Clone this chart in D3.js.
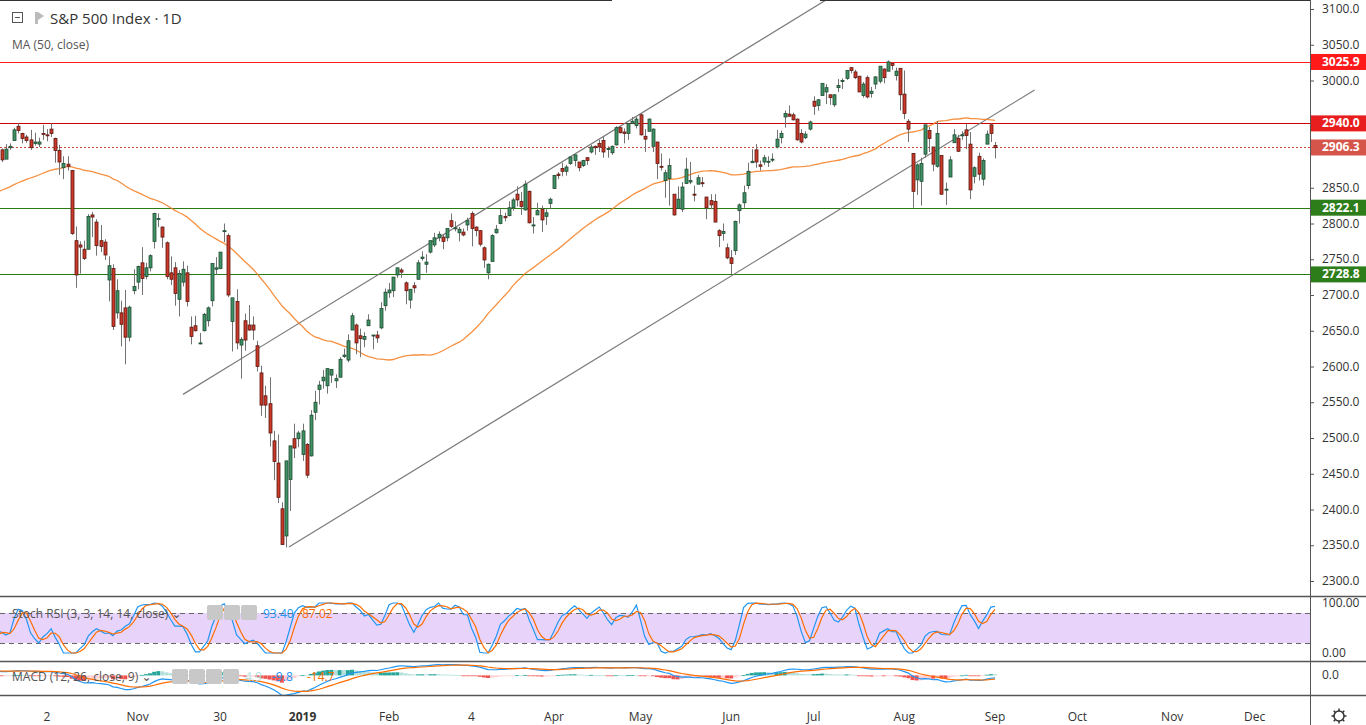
<!DOCTYPE html>
<html>
<head>
<meta charset="utf-8">
<script src="https://cdn.jsdelivr.net/npm/d3@7"></script>
<style>
  body { margin: 0; background: #fff; }
  svg { display: block; font-family: "Open Sans", "DejaVu Sans", sans-serif; }
</style>
</head>
<body>
<svg id="chart" width="1366" height="725"></svg>
<script>
// closes before the visible window, only used to warm up MA / RSI / MACD
var warmupCloses = [2726,2713,2736,2759,2784,2793,2774,2798,2801,2798,2809,2815,2804,2801,2806,2820,2846,2837,2818,2802,2816,2813,2827,2840,2850,2858,2857,2853,2833,2821,2839,2818,2840,2850,2857,2862,2861,2856,2875,2897,2898,2914,2901,2901,2896,2888,2878,2871,2877,2887,2888,2904,2904];

var firstDate = "2018-09-17";
var holidays = ["2018-11-22","2018-12-05","2018-12-25","2019-01-01","2019-01-21","2019-02-18","2019-04-19","2019-05-27","2019-07-04","2019-09-02","2019-11-28","2019-12-25"];

// [open, high, low, close] per trading day
var candles = [
[2903,2905,2886,2889],[2890,2911,2890,2904],[2906,2912,2903,2908],[2916,2934,2916,2931],[2936,2940,2926,2930],
[2926,2927,2912,2919],[2921,2924,2913,2916],[2917,2931,2903,2906],[2912,2927,2909,2914],[2911,2920,2907,2914],
[2926,2938,2917,2925],[2924,2932,2915,2923],[2932,2940,2921,2926],[2919,2920,2885,2902],[2902,2910,2868,2886],
[2878,2894,2862,2884],[2883,2894,2874,2880],[2874,2875,2784,2786],[2776,2796,2710,2728],[2770,2775,2730,2767],
[2764,2776,2749,2751],[2764,2813,2764,2810],[2812,2816,2781,2809],[2802,2806,2755,2769],[2776,2798,2760,2768],
[2774,2778,2749,2756],[2721,2754,2691,2741],[2737,2743,2651,2656],[2675,2722,2667,2706],[2675,2692,2628,2659],
[2682,2707,2603,2641],[2641,2685,2635,2683],[2706,2736,2701,2712],
[2718,2741,2708,2740],[2745,2767,2700,2723],[2726,2745,2722,2738],[2738,2757,2733,2755],[2775,2815,2765,2814],
[2807,2814,2795,2807],[2795,2796,2766,2781],[2773,2775,2722,2726],[2731,2754,2714,2722],[2738,2746,2685,2702],
[2694,2735,2670,2730],[2718,2747,2712,2736],[2731,2741,2684,2691],[2655,2670,2631,2642],[2657,2671,2649,2650],
[2633,2647,2631,2633],[2650,2675,2649,2673],[2664,2684,2656,2682],[2692,2744,2684,2744],[2736,2753,2728,2738],
[2737,2760,2736,2760],
[2790,2800,2774,2790],[2783,2786,2697,2700],[2663,2696,2621,2696],[2691,2708,2624,2633],[2630,2641,2583,2638],
[2664,2674,2622,2637],[2658,2686,2650,2651],[2658,2670,2637,2651],[2629,2636,2593,2600],[2591,2601,2531,2546],
[2559,2573,2528,2546],[2548,2585,2488,2507],[2496,2510,2441,2467],[2465,2505,2409,2417],[2401,2410,2351,2351],
[2363,2468,2347,2468],[2442,2489,2398,2489],[2499,2520,2472,2486],[2499,2510,2487,2507],
[2477,2520,2468,2510],[2491,2493,2444,2448],[2475,2539,2474,2532],[2536,2566,2525,2550],[2568,2580,2547,2574],
[2580,2595,2569,2585],[2573,2597,2562,2597],[2588,2596,2577,2596],[2580,2589,2570,2583],[2585,2613,2585,2610],
[2614,2625,2612,2616],[2609,2645,2606,2636],[2651,2675,2651,2671],[2658,2660,2617,2633],[2643,2653,2613,2639],
[2638,2648,2627,2642],[2657,2673,2657,2665],[2644,2644,2624,2644],[2644,2650,2633,2640],[2654,2690,2652,2681],
[2685,2709,2678,2704],
[2703,2717,2696,2707],[2706,2725,2697,2725],[2728,2738,2724,2738],[2735,2738,2724,2732],[2717,2719,2687,2706],
[2693,2708,2681,2708],[2713,2718,2703,2710],[2722,2749,2722,2745],[2751,2761,2748,2753],[2743,2757,2731,2746],
[2760,2776,2758,2776],[2770,2787,2767,2780],[2780,2789,2775,2785],[2781,2785,2764,2775],[2780,2793,2775,2793],
[2804,2814,2794,2796],[2793,2803,2789,2794],[2787,2795,2775,2792],[2788,2793,2782,2784],
[2798,2808,2790,2804],[2814,2817,2768,2793],[2795,2796,2782,2790],[2790,2791,2768,2771],[2766,2768,2738,2749],
[2731,2744,2722,2743],[2747,2785,2747,2783],[2787,2798,2786,2792],[2800,2820,2799,2811],[2810,2815,2803,2808],
[2811,2831,2810,2822],[2822,2836,2818,2833],[2841,2852,2824,2833],[2831,2844,2812,2824],[2819,2860,2818,2855],
[2845,2846,2800,2801],[2797,2809,2786,2798],[2812,2829,2812,2818],[2820,2825,2788,2805],[2810,2820,2798,2815],
[2828,2836,2820,2834],
[2849,2868,2849,2867],[2869,2872,2862,2867],[2877,2885,2866,2873],[2873,2882,2867,2879],[2884,2894,2882,2893],
[2888,2896,2880,2896],[2886,2886,2873,2878],[2881,2889,2879,2888],[2892,2893,2882,2888],[2900,2910,2898,2907],
[2908,2909,2896,2906],[2912,2917,2900,2907],[2916,2922,2892,2900],[2904,2908,2892,2905],[2899,2909,2896,2908],
[2910,2936,2909,2934],[2934,2936,2926,2927],[2928,2933,2912,2926],[2926,2940,2917,2940],[2940,2949,2939,2943],
[2937,2949,2933,2946],
[2952,2954,2923,2924],[2922,2932,2900,2918],[2929,2947,2929,2946],[2908,2933,2900,2932],[2914,2914,2862,2884],
[2880,2898,2874,2879],[2860,2875,2836,2871],[2863,2891,2825,2881],[2841,2841,2811,2812],[2821,2852,2821,2834],
[2820,2858,2816,2851],[2856,2892,2856,2876],[2858,2886,2855,2860],[2841,2853,2831,2840],[2855,2868,2855,2864],
[2857,2865,2851,2856],[2837,2837,2806,2822],[2832,2841,2820,2826],[2831,2841,2802,2802],[2790,2792,2767,2783],
[2786,2800,2776,2789],[2766,2772,2750,2752],
[2752,2763,2729,2744],[2762,2804,2756,2803],[2818,2828,2800,2826],[2829,2853,2822,2843],[2853,2885,2848,2873],
[2885,2904,2885,2887],[2903,2911,2878,2886],[2882,2888,2874,2880],[2886,2896,2882,2892],[2887,2894,2879,2887],
[2889,2898,2886,2890],[2907,2931,2905,2918],[2920,2930,2912,2926],[2949,2958,2934,2954],[2953,2965,2950,2950],
[2952,2955,2944,2945],[2946,2947,2916,2917],[2926,2932,2912,2914],[2920,2929,2918,2925],[2932,2944,2930,2942],
[2971,2978,2952,2964],[2965,2974,2958,2973],[2979,2996,2979,2996],[2984,2995,2967,2990],[2980,2981,2966,2976],
[2966,2981,2963,2980],[2990,3002,2984,2993],[3000,3003,2988,3000],[3003,3014,3001,3014],[3018,3018,3010,3014],
[3012,3015,3002,3004],[3006,3006,2984,2984],[2979,2998,2976,2995],[3004,3007,2975,2977],[2982,2991,2976,2985],
[2995,3006,2988,3005],[2999,3020,2996,3020],[3016,3017,2996,3004],[3013,3028,3013,3026],[3024,3025,3015,3021],
[3007,3018,3000,3013],[3017,3017,2958,2980],
[2981,3014,2946,2954],[2943,2946,2914,2932],[2898,2898,2822,2845],[2861,2884,2840,2882],[2859,2892,2825,2884],
[2897,2938,2892,2938],[2930,2935,2900,2919],[2907,2907,2873,2883],[2880,2943,2878,2926],[2895,2895,2840,2841],
[2847,2857,2826,2848],[2865,2894,2865,2889],[2913,2932,2913,2924],[2919,2924,2900,2901],[2923,2929,2917,2924],
[2931,2939,2904,2923],[2911,2928,2834,2847],[2866,2880,2856,2878],[2894,2899,2860,2869],[2862,2891,2853,2888],
[2911,2930,2911,2925],[2938,2940,2914,2926],
[2909,2914,2891,2906]
];

var priceTicks = d3.range(2300, 3101, 50);
var levels = [
  {price: 3025.9, color: "#ff1a1a", tag: "#ff1a1a", dash: null},
  {price: 2940.0, color: "#cc0000", tag: "#e81e1e", dash: null},
  {price: 2906.3, color: "#c8453a", tag: "#d6554b", dash: "2,2"},
  {price: 2822.1, color: "#2a7a13", tag: "#2e7d1b", dash: null},
  {price: 2728.8, color: "#2a7a13", tag: "#2e7d1b", dash: null}
];
// drawn trend lines: [barIndex, price] pairs
var trendLines = [
  [[44, 2561], [200, 3112.6]],
  [[69.7, 2347.5], [250.6, 2986.7]]
];
var timeLabels = [["2018-10-02","2"],["2018-11-01","Nov"],["2018-11-30","30"],["2019-01-02","2019"],["2019-02-01","Feb"],["2019-03-04","4"],["2019-04-01","Apr"],["2019-05-01","May"],["2019-06-03","Jun"],["2019-07-01","Jul"],["2019-08-01","Aug"],["2019-09-03","Sep"],["2019-10-01","Oct"],["2019-11-01","Nov"],["2019-12-02","Dec"]];

// ---- trading calendar
var fmt = d3.timeFormat("%Y-%m-%d");
var dates = [];
var d = new Date(firstDate + "T12:00:00");
while (dates.length < 330) {
  var k = fmt(d), wd = d.getDay();
  if (wd !== 0 && wd !== 6 && holidays.indexOf(k) < 0) dates.push(k);
  d = d3.timeDay.offset(d, 1);
}
var n = candles.length;

// ---- indicators
var closes = warmupCloses.concat(candles.map(function(c) { return c[3]; }));
var w0 = warmupCloses.length;
function sma(arr, p) { return arr.map(function(v, i) { if (i < p - 1 || arr.slice(i - p + 1, i + 1).some(function(x) { return x == null; })) return null; return d3.mean(arr.slice(i - p + 1, i + 1)); }); }
function ema(arr, p) { var a = 2 / (p + 1), out = [], prev = null; arr.forEach(function(v) { if (v == null) { out.push(null); return; } prev = prev == null ? v : prev + a * (v - prev); out.push(prev); }); return out; }
var ma50 = sma(closes, 50);
var rsi = [null], ag = 0, al = 0;
for (var i = 1; i < closes.length; i++) {
  var ch = closes[i] - closes[i - 1], g = Math.max(ch, 0), l = Math.max(-ch, 0);
  if (i <= 14) { ag += g / 14; al += l / 14; rsi.push(i < 14 ? null : 100 - 100 / (1 + ag / (al || 1e-9))); }
  else { ag = (ag * 13 + g) / 14; al = (al * 13 + l) / 14; rsi.push(100 - 100 / (1 + ag / (al || 1e-9))); }
}
var stoch = rsi.map(function(v, i) {
  if (i < 27) return null;
  var win = rsi.slice(i - 13, i + 1), lo = d3.min(win), hi = d3.max(win);
  return hi === lo ? 50 : (v - lo) / (hi - lo) * 100;
});
var kLine = sma(stoch, 3), dLine = sma(kLine, 3);
var e12 = ema(closes, 12), e26 = ema(closes, 26);
var macd = e12.map(function(v, i) { return v - e26[i]; });
var signal = ema(macd, 9);
var hist = macd.map(function(v, i) { return v - signal[i]; });

// ---- layout
var svg = d3.select("#chart");
var axisX = 1310, mainTop = 0, mainBot = 596, stTop = 597, stBot = 661, mdTop = 662, mdBot = 695;
var x = d3.scaleLinear().domain([11, n - 1]).range([47, 995]);
var y = d3.scaleLinear().domain([2300, 3100]).range([581, 9]);
var ys = d3.scaleLinear().domain([0, 100]).range([653, 603]);
var ym = d3.scaleLinear().domain([-76, 52]).range([695, 662]);
function xi(i) { return x(i - w0); }

var defs = svg.append("defs");
[["cMain", mainTop, mainBot], ["cSt", stTop, stBot], ["cMd", mdTop, mdBot]].forEach(function(c) {
  defs.append("clipPath").attr("id", c[0]).append("rect").attr("x", 0).attr("y", c[1]).attr("width", axisX).attr("height", c[2] - c[1]);
});

var main = svg.append("g").attr("clip-path", "url(#cMain)");

// levels
levels.forEach(function(lv) {
  main.append("line").attr("x1", 0).attr("x2", axisX).attr("y1", Math.round(y(lv.price)) + 0.5).attr("y2", Math.round(y(lv.price)) + 0.5)
    .attr("stroke", lv.color).attr("stroke-width", 1).attr("stroke-dasharray", lv.dash);
});

// trend lines
trendLines.forEach(function(t) {
  main.append("line").attr("x1", x(t[0][0])).attr("y1", y(t[0][1])).attr("x2", x(t[1][0])).attr("y2", y(t[1][1]))
    .attr("stroke", "#7b7b7b").attr("stroke-width", 1.2);
});

// MA 50
main.append("path").datum(ma50.map(function(v, i) { return [i, v]; }).filter(function(p) { return p[1] != null && p[0] >= w0 - 1; }))
  .attr("fill", "none").attr("stroke", "#f57c1f").attr("stroke-width", 1.3).attr("opacity", 0.85)
  .attr("d", d3.line().x(function(p) { return xi(p[0]); }).y(function(p) { return y(p[1]); }));

// candles
var bw = 3;
var cg = main.selectAll("g.c").data(candles).enter().append("g");
cg.append("line").attr("x1", function(c, i) { return Math.round(x(i)) + 0.5; }).attr("x2", function(c, i) { return Math.round(x(i)) + 0.5; })
  .attr("y1", function(c) { return y(c[1]); }).attr("y2", function(c) { return y(c[2]); }).attr("stroke", "#737373");
cg.append("rect").attr("x", function(c, i) { return Math.round(x(i)) - 1; }).attr("width", bw)
  .attr("y", function(c) { return y(Math.max(c[0], c[3])); })
  .attr("height", function(c) { return Math.max(1, Math.abs(y(c[0]) - y(c[3]))); })
  .attr("fill", function(c) { return c[3] >= c[0] ? "#3f9265" : "#c9392a"; })
  .attr("stroke", function(c) { return c[3] >= c[0] ? "#1e4a30" : "#5c1810"; }).attr("stroke-width", 0.8);

// ---- Stoch RSI pane
var st = svg.append("g").attr("clip-path", "url(#cSt)");
st.append("rect").attr("x", 0).attr("width", axisX).attr("y", ys(80)).attr("height", ys(20) - ys(80)).attr("fill", "#e8d4fb");
[80, 20].forEach(function(v) {
  st.append("line").attr("x1", 0).attr("x2", axisX).attr("y1", ys(v) + 0.5).attr("y2", ys(v) + 0.5)
    .attr("stroke", "#666").attr("stroke-dasharray", "5,4");
});
function pline(g, arr, sc, color) {
  g.append("path").datum(arr.map(function(v, i) { return [i, v]; }).filter(function(p) { return p[1] != null && p[0] >= w0 - 1; }))
    .attr("fill", "none").attr("stroke", color).attr("stroke-width", 1.2)
    .attr("d", d3.line().x(function(p) { return xi(p[0]); }).y(function(p) { return sc(p[1]); }));
}
pline(st, kLine, ys, "#2196f3");
pline(st, dLine, ys, "#ff6d00");

// ---- MACD pane
var md = svg.append("g").attr("clip-path", "url(#cMd)");
md.selectAll("rect.h").data(hist.map(function(v, i) { return [i, v]; }).filter(function(p) { return p[0] >= w0; })).enter().append("rect")
  .attr("x", function(p) { return xi(p[0]) - 2; }).attr("width", 4)
  .attr("y", function(p) { return Math.min(ym(p[1]), ym(0)); })
  .attr("height", function(p) { return Math.max(0.8, Math.abs(ym(p[1]) - ym(0))); })
  .attr("fill", function(p) {
    var prev = hist[p[0] - 1];
    if (p[1] >= 0) return p[1] >= prev ? "#26a69a" : "#b2dfdb";
    return p[1] <= prev ? "#ef5350" : "#ffcdd2";
  });
pline(md, macd, ym, "#2196f3");
pline(md, signal, ym, "#ff6d00");

// ---- pane borders / axes
svg.append("line").attr("x1", 0).attr("x2", 612).attr("y1", 0.5).attr("y2", 0.5).attr("stroke", "#333");
svg.append("line").attr("x1", 820).attr("x2", axisX).attr("y1", 0.5).attr("y2", 0.5).attr("stroke", "#333");
[mainBot, stBot, mdBot].forEach(function(yy) {
  svg.append("line").attr("x1", 0).attr("x2", 1366).attr("y1", yy + 0.5).attr("y2", yy + 0.5).attr("stroke", "#555").attr("stroke-width", 1.5);
});
svg.append("line").attr("x1", axisX + 0.5).attr("x2", axisX + 0.5).attr("y1", 0).attr("y2", 725).attr("stroke", "#555");

var ax = svg.append("g").attr("font-size", 12).attr("fill", "#333");
priceTicks.forEach(function(p) {
  ax.append("line").attr("x1", axisX).attr("x2", axisX + 4).attr("y1", y(p) + 0.5).attr("y2", y(p) + 0.5).attr("stroke", "#555");
  var covered = levels.some(function(lv) { return Math.abs(y(lv.price) - y(p)) < 14; });
  if (!covered) ax.append("text").attr("x", 1322).attr("y", y(p) + 4).text(p.toFixed(1));
});
[[100, "100.00"], [0, "0.00"]].forEach(function(t) {
  ax.append("text").attr("x", 1322).attr("y", ys(t[0]) + 4).text(t[1]);
});
ax.append("text").attr("x", 1322).attr("y", ym(0) + 4).text("0.0");

// level tags
levels.forEach(function(lv) {
  var yy = y(lv.price);
  svg.append("rect").attr("x", axisX + 1).attr("y", yy - 8).attr("width", 55).attr("height", 16).attr("fill", lv.tag);
  svg.append("text").attr("x", 1322).attr("y", yy + 4).attr("fill", "#fff").attr("font-size", 12).attr("font-weight", "bold").text(lv.price.toFixed(1));
});

// time axis
var tg = svg.append("g").attr("font-size", 12).attr("fill", "#333").attr("text-anchor", "middle");
timeLabels.forEach(function(t) {
  var idx = dates.indexOf(t[0]);
  tg.append("text").attr("x", x(idx)).attr("y", 721).attr("font-weight", t[1] === "2019" ? "bold" : null).text(t[1]);
});
// settings gear
var gear = svg.append("g").attr("transform", "translate(1339,716)");
gear.append("circle").attr("r", 5).attr("fill", "none").attr("stroke", "#333").attr("stroke-width", 1.5);
d3.range(8).forEach(function(j) {
  var a = j * Math.PI / 4;
  gear.append("line").attr("x1", 5 * Math.cos(a)).attr("y1", 5 * Math.sin(a)).attr("x2", 7.5 * Math.cos(a)).attr("y2", 7.5 * Math.sin(a)).attr("stroke", "#333").attr("stroke-width", 1.5);
});

// ---- legends
var lg = svg.append("g").attr("fill", "#333");
lg.append("rect").attr("x", 12.5).attr("y", 12.5).attr("width", 10).attr("height", 10).attr("fill", "#fff").attr("stroke", "#555");
lg.append("line").attr("x1", 15).attr("x2", 20).attr("y1", 17.5).attr("y2", 17.5).attr("stroke", "#555");
lg.append("path").attr("d", "M35,12 h3 v12 h-3z M38,12 l6,4 -6,4z").attr("fill", "#bbb");
lg.append("text").attr("x", 50).attr("y", 24).attr("font-size", 15).text("S&P 500 Index · 1D");
lg.append("text").attr("x", 12).attr("y", 49).attr("font-size", 12).attr("fill", "#555").text("MA (50, close)");

function iconBox(g, xx, yy) { g.append("rect").attr("x", xx).attr("y", yy).attr("width", 16).attr("height", 15).attr("rx", 2).attr("fill", "#c8c8c8"); }
var sl = svg.append("g").attr("font-size", 12);
sl.append("text").attr("x", 12).attr("y", 618).attr("fill", "#555").text("Stoch RSI (3, 3, 14, 14, close) ⌄");
[207, 224, 241].forEach(function(xx) { iconBox(sl, xx, 605); });
sl.append("text").attr("x", 263).attr("y", 618).attr("fill", "#2196f3").text("93.40");
sl.append("text").attr("x", 302).attr("y", 618).attr("fill", "#ff6d00").text("87.02");

var ml = svg.append("g").attr("font-size", 12);
ml.append("text").attr("x", 12).attr("y", 681).attr("fill", "#555").text("MACD (12, 26, close, 9) ⌄");
[172, 189, 206, 223].forEach(function(xx) { iconBox(ml, xx, 669); });
ml.append("text").attr("x", 245).attr("y", 681).attr("fill", "#b2dfdb").text("4.9");
ml.append("text").attr("x", 272).attr("y", 681).attr("fill", "#2196f3").text("-9.8");
ml.append("text").attr("x", 307).attr("y", 681).attr("fill", "#ff6d00").text("-14.7");
</script>
</body>
</html>
